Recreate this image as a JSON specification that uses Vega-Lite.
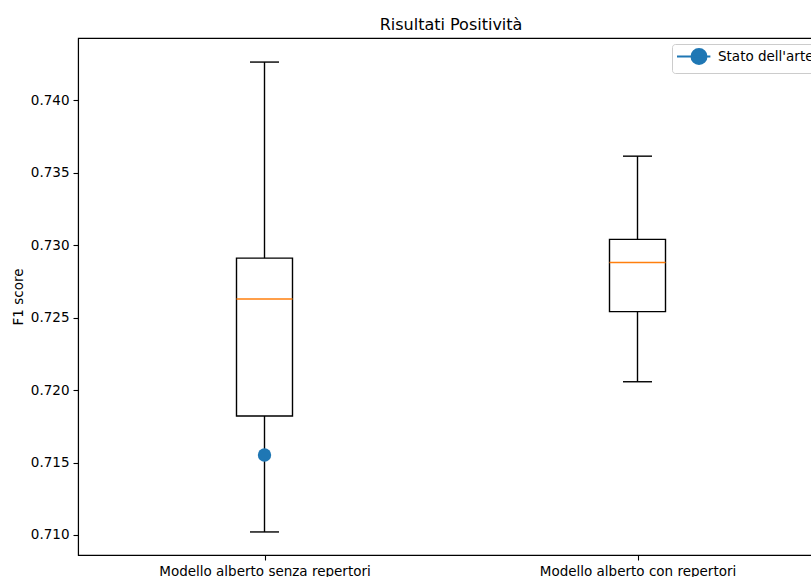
{
  "$schema": "https://vega.github.io/schema/vega-lite/v6.json",
  "autosize": "none",
  "padding": {"left": 78, "top": 38, "right": 0, "bottom": 22},
  "width": 746,
  "height": 517,
  "background": "white",
  "title": {
    "text": "Risultati Positività",
    "fontSize": 16,
    "fontWeight": "normal",
    "color": "black",
    "anchor": "middle",
    "offset": 5
  },
  "datasets": {
    "boxes": [
      {"modello": "Modello alberto senza repertori", "lo": 0.71021, "q1": 0.71821, "med": 0.72628, "q3": 0.72910, "hi": 0.74262},
      {"modello": "Modello alberto con repertori", "lo": 0.72057, "q1": 0.72541, "med": 0.72880, "q3": 0.73039, "hi": 0.73613}
    ],
    "riferimento": [
      {"modello": "Modello alberto senza repertori", "f1": 0.71552, "serie": "Stato dell'arte"}
    ]
  },
  "encoding": {
    "x": {
      "field": "modello",
      "type": "nominal",
      "sort": ["Modello alberto senza repertori", "Modello alberto con repertori"],
      "scale": {"type": "point", "padding": 0.5},
      "axis": {
        "title": null,
        "labelAngle": 0,
        "tickSize": 5,
        "labelPadding": 4,
        "labelFontSize": 13.5,
        "labelColor": "black",
        "tickColor": "black",
        "domainColor": "black",
        "labelLimit": 400
      }
    }
  },
  "layer": [
    {
      "data": {"name": "boxes"},
      "mark": {"type": "rule", "color": "black", "strokeWidth": 1.4},
      "encoding": {
        "y": {
          "field": "lo",
          "type": "quantitative",
          "scale": {"domain": [0.70862, 0.74428], "nice": false, "zero": false},
          "axis": {
            "title": "F1 score",
            "values": [0.710, 0.715, 0.720, 0.725, 0.730, 0.735, 0.740],
            "format": ".3f",
            "grid": false,
            "tickSize": 5,
            "labelPadding": 4,
            "labelFontSize": 13.5,
            "labelColor": "black",
            "tickColor": "black",
            "domainColor": "black",
            "titleFontSize": 13.5,
            "titleFontWeight": "normal",
            "titleColor": "black",
            "titlePadding": 5
          }
        },
        "y2": {"field": "q1"}
      }
    },
    {
      "data": {"name": "boxes"},
      "mark": {"type": "rule", "color": "black", "strokeWidth": 1.4},
      "encoding": {
        "y": {"field": "q3", "type": "quantitative"},
        "y2": {"field": "hi"}
      }
    },
    {
      "data": {"name": "boxes"},
      "mark": {"type": "bar", "size": 56, "fill": "transparent", "stroke": "black", "strokeWidth": 1.4},
      "encoding": {
        "y": {"field": "q1", "type": "quantitative"},
        "y2": {"field": "q3"}
      }
    },
    {
      "data": {"name": "boxes"},
      "mark": {"type": "tick", "size": 29, "thickness": 1.4, "color": "black", "opacity": 1},
      "encoding": {
        "y": {"field": "lo", "type": "quantitative"}
      }
    },
    {
      "data": {"name": "boxes"},
      "mark": {"type": "tick", "size": 29, "thickness": 1.4, "color": "black", "opacity": 1},
      "encoding": {
        "y": {"field": "hi", "type": "quantitative"}
      }
    },
    {
      "data": {"name": "boxes"},
      "mark": {"type": "tick", "size": 56, "thickness": 1.4, "color": "#ff7f0e", "opacity": 1},
      "encoding": {
        "y": {"field": "med", "type": "quantitative"}
      }
    },
    {
      "data": {"name": "riferimento"},
      "mark": {"type": "point", "filled": true, "size": 180, "opacity": 1},
      "encoding": {
        "y": {"field": "f1", "type": "quantitative"},
        "color": {
          "field": "serie",
          "type": "nominal",
          "scale": {"domain": ["Stato dell'arte"], "range": ["#1f77b4"]},
          "legend": {
            "title": null,
            "orient": "top-right",
            "offset": 6,
            "padding": 4,
            "strokeColor": "#cccccc",
            "fillColor": "white",
            "cornerRadius": 3,
            "labelFontSize": 13.5,
            "labelColor": "black",
            "labelOffset": 25,
            "symbolType": "M-1,0L3.45,0M0.933,0A1,1 0 1,1 2.933,0A1,1 0 1,1 0.933,0Z",
            "symbolSize": 225,
            "symbolFillColor": "#1f77b4",
            "symbolStrokeColor": "#1f77b4",
            "symbolStrokeWidth": 2,
            "symbolOpacity": 1
          }
        }
      }
    }
  ],
  "config": {
    "font": "DejaVu Sans",
    "view": {"stroke": "black", "strokeWidth": 1.1},
    "axis": {"domainWidth": 1.1, "tickWidth": 1.1}
  }
}
